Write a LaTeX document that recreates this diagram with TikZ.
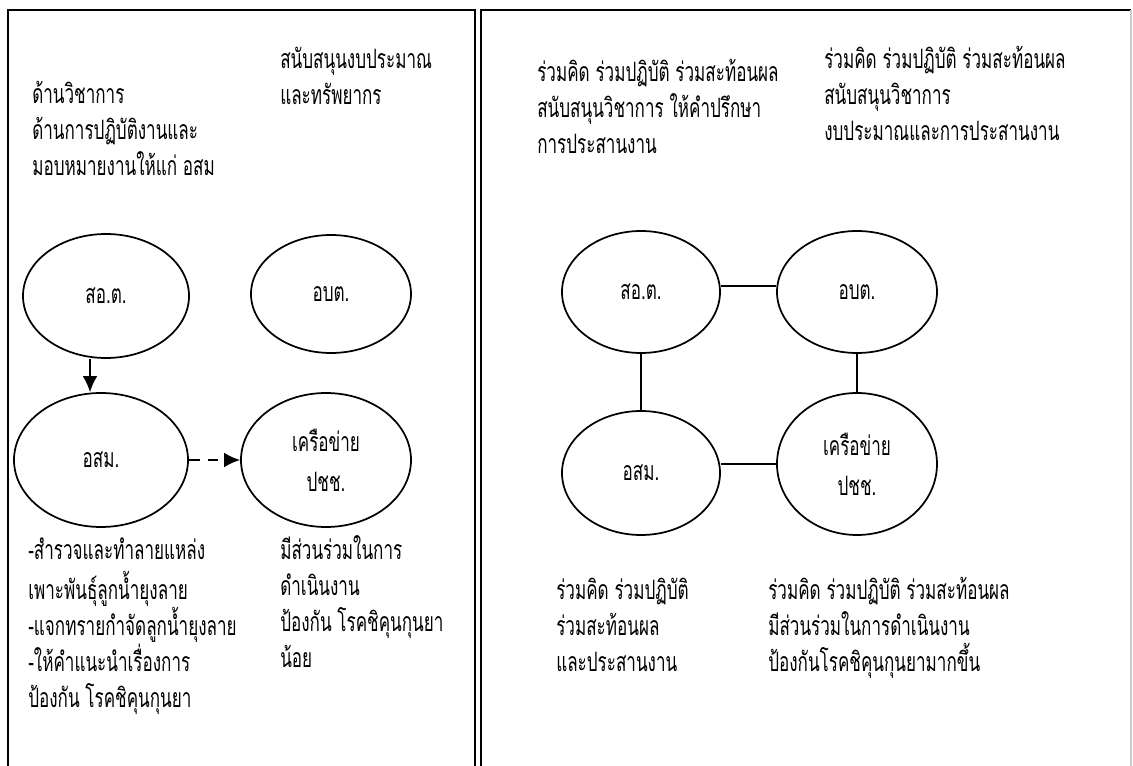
\documentclass[tikz,border=0pt]{standalone}
\usepackage{fontspec}
\newfontfamily\thaifont[Script=Thai,FakeStretch=0.64]{Loma}
\usetikzlibrary{shapes.geometric,arrows.meta}
\tikzset{
  % --- FRAMES ---
  frame/.style={
    draw=black,
    line width=1.5pt
  },
  frame-light/.style={
    draw=black!20,
    line width=1pt
  },
  % --- NODES ---
  org/.style={
    ellipse,
    draw=black,
    line width=1.3pt,
    inner sep=0pt,
    font=\thaifont\fontsize{20}{30}\selectfont,
    align=center
  },
  note/.style={
    font=\thaifont\fontsize{20}{27}\selectfont,
    align=left,
    anchor=north west,
    inner sep=0pt
  },
  % --- ARROWS ---
  arrw/.style={
    draw=black,
    line width=1.3pt,
    -{Latex[length=12pt,width=11pt]}
  },
  arrw-dashed/.style={
    arrw,
    dash pattern=on 8pt off 6pt
  },
  link/.style={
    draw=black,
    line width=1.2pt
  },
}
\begin{document}
\begin{tikzpicture}[x=0.75pt, y=-0.75pt]
  \useasboundingbox (0,0) rectangle (1133,766);
  % --- frames
  \draw[frame] (8,766) -- (8,10) -- (475,10) -- (475,766);
  \draw[frame] (481,766) -- (481,10) -- (1131,10);
  \draw[frame-light] (1131,10) -- (1131,766);
  % --- left panel: notes above
  \node[note] (tl-work) at (32,78) {\strut ด้านวิชาการ\\ด้านการปฏิบัติงานและ\\มอบหมายงานให้แก่ อสม};
  \node[note] (tl-fund) at (280,43) {\strut สนับสนุนงบประมาณ\\และทรัพยากร};
  % --- left panel: organisations
  \node[org, minimum width=124.5pt, minimum height=93pt]  (sot-l) at (106,296) {สอ.ต.};
  \node[org, minimum width=120pt,   minimum height=88.5pt] (obt-l) at (331,294) {อบต.};
  \node[org, minimum width=130.5pt, minimum height=100.5pt] (osm-l) at (101,460) {อสม.};
  \node[org, minimum width=127.5pt, minimum height=100.5pt] (net-l) at (326,460) {เครือข่าย\\ปชช.};
  \draw[arrw] ([xshift=-12pt]sot-l.south) -- ([xshift=-12pt]sot-l.south |- osm-l.north);
  \draw[arrw-dashed] (osm-l.east) -- (osm-l.east -| net-l.west);
  % --- left panel: notes below
  \node[note] (bl-osm) at (28,534) {\strut -สำรวจและทำลายแหล่ง\\เพาะพันธุ์ลูกน้ำยุงลาย\\-แจกทรายกำจัดลูกน้ำยุงลาย\\-ให้คำแนะนำเรื่องการ\\ป้องกัน โรคชิคุนกุนยา};
  \node[note] (bl-net) at (280,534) {\strut มีส่วนร่วมในการ\\ดำเนินงาน\\ป้องกัน โรคชิคุนกุนยา\\น้อย};
  % --- right panel: notes above
  \node[note] (tr-sot) at (537,56) {\strut ร่วมคิด ร่วมปฏิบัติ ร่วมสะท้อนผล\\สนับสนุนวิชาการ ให้คำปรึกษา\\การประสานงาน};
  \node[note] (tr-obt) at (824,43) {\strut ร่วมคิด ร่วมปฏิบัติ ร่วมสะท้อนผล\\สนับสนุนวิชาการ\\งบประมาณและการประสานงาน};
  % --- right panel: organisations
  \node[org, minimum width=118.5pt, minimum height=91.5pt] (sot-r) at (641,292) {สอ.ต.};
  \node[org, minimum width=120pt,   minimum height=91.5pt] (obt-r) at (857,292) {อบต.};
  \node[org, minimum width=118.5pt, minimum height=93pt]   (osm-r) at (641,473) {อสม.};
  \node[org, minimum width=120pt,   minimum height=106.5pt] (net-r) at (857,464) {เครือข่าย\\ปชช.};
  \draw[link] ([yshift=4.5pt]sot-r.east) -- ([yshift=4.5pt]obt-r.west);
  \draw[link] (sot-r.south) -- (osm-r.north);
  \draw[link] (obt-r.south) -- (net-r.north);
  \draw[link] (osm-r.east |- net-r.west) -- (net-r.west);
  % --- right panel: notes below
  \node[note] (br-osm) at (556,574) {\strut ร่วมคิด ร่วมปฏิบัติ\\ร่วมสะท้อนผล\\และประสานงาน};
  \node[note] (br-net) at (768,574) {\strut ร่วมคิด ร่วมปฏิบัติ ร่วมสะท้อนผล\\มีส่วนร่วมในการดำเนินงาน\\ป้องกันโรคชิคุนกุนยามากขึ้น};
\end{tikzpicture}
\end{document}
